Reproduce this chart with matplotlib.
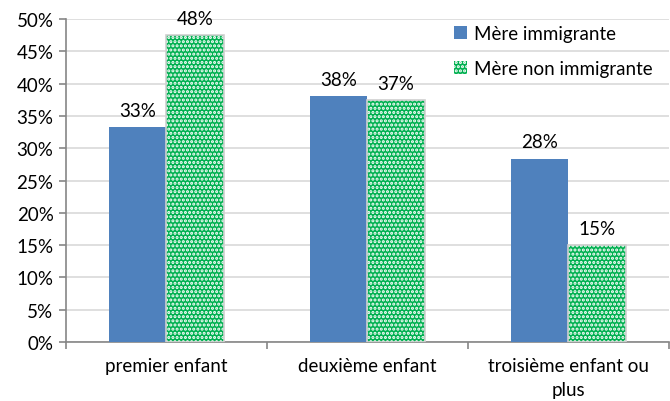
import matplotlib.pyplot as plt
import numpy as np

categories = ["premier enfant", "deuxième enfant", "troisième enfant ou\nplus"]
immigrante = [33.3, 38.1, 28.4]
non_immigrante = [47.5, 37.4, 15.0]
labels_imm = ["33%", "38%", "28%"]
labels_non = ["48%", "37%", "15%"]
yticks = [0, 5, 10, 15, 20, 25, 30, 35, 40, 45, 50]

plt.rcParams['font.family'] = ['Lato', 'DejaVu Sans']
plt.rcParams['hatch.linewidth'] = 1.5

fs = 13.5
fig = plt.figure(figsize=(6.7, 4.02), dpi=100)
ax = fig.add_axes([0.0985, 0.147, 0.9, 0.803])

x = np.arange(len(categories))
w = 0.285
blue = "#4F81BD"
green = "#00B050"

ax.bar(x - w / 2, immigrante, w, color=blue, zorder=3, label="Mère immigrante")
# green bars with white dot pattern
ax.bar(x + w / 2, non_immigrante, w, color=green, edgecolor="white", hatch="....",
       linewidth=0, zorder=3, label="Mère non immigrante")
ax.bar(x + w / 2, non_immigrante, w, fill=False, edgecolor="#D0D0D0", linewidth=1.2, zorder=4)

for i in range(len(categories)):
    ax.text(x[i] - w / 2, immigrante[i] + 1.3, labels_imm[i], ha="center", va="bottom", fontsize=fs)
    ax.text(x[i] + w / 2, non_immigrante[i] + 1.3, labels_non[i], ha="center", va="bottom", fontsize=fs)

ax.set_xlim(-0.5, 2.5)
ax.set_ylim(0, 50)
ax.set_yticks(yticks)
ax.set_yticklabels([str(t) + "%" for t in yticks], fontsize=fs)
ax.yaxis.grid(True, color="#D9D9D9", linewidth=1.2, zorder=0)
ax.set_axisbelow(True)

ax.set_xticks([-0.5, 0.5, 1.5, 2.5])
ax.set_xticklabels([])
ax.set_xticks(x, minor=True)
ax.set_xticklabels(categories, minor=True, fontsize=fs, linespacing=1.5)
ax.tick_params(axis="x", which="minor", length=0, pad=11)
ax.tick_params(axis="x", which="major", length=5, color="#868686", width=1.2)
ax.tick_params(axis="y", length=5, color="#868686", width=1.2, pad=4)

for s in ["top", "right"]:
    ax.spines[s].set_visible(False)
ax.spines["left"].set_color("#868686")
ax.spines["bottom"].set_color("#868686")
ax.spines["left"].set_linewidth(1.2)
ax.spines["bottom"].set_linewidth(1.2)

leg = ax.legend(loc="upper left", bbox_to_anchor=(0.615, 1.035), frameon=False, fontsize=fs,
                handlelength=0.7, handleheight=0.7, handletextpad=0.4, labelspacing=1.0)

fig.savefig("out.png", dpi=100)
